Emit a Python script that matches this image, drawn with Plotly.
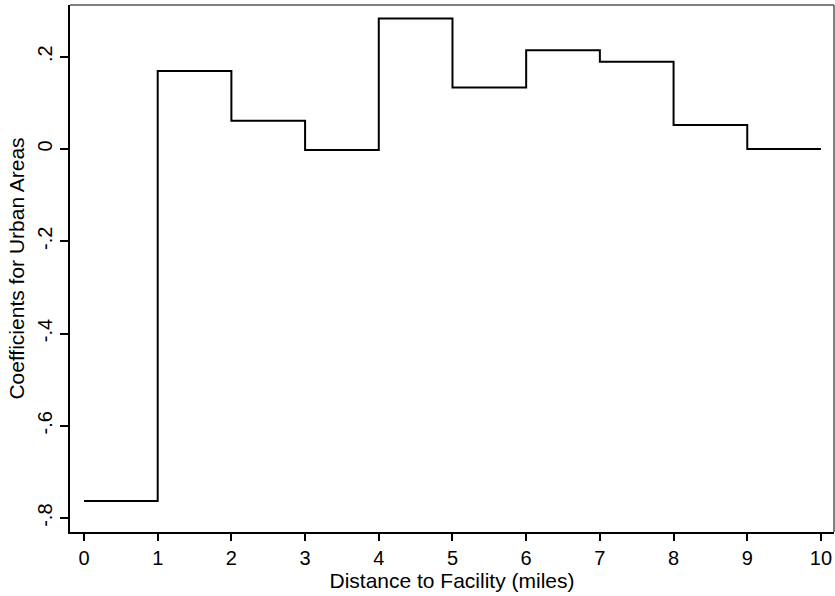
import plotly.graph_objects as go

# Distance bins (miles) and coefficients for urban areas
distance = [0, 1, 2, 3, 4, 5, 6, 7, 8, 9, 10]
coefs = [-0.763, 0.169, 0.061, -0.002, 0.283, 0.133, 0.214, 0.189, 0.052, 0.0]
x_ticks = [0, 1, 2, 3, 4, 5, 6, 7, 8, 9, 10]
y_ticks = [0.2, 0.0, -0.2, -0.4, -0.6, -0.8]
y_ticktext = [".2", "0", "-.2", "-.4", "-.6", "-.8"]

step_y = coefs + [coefs[-1]]

fig = go.Figure()
fig.add_trace(go.Scatter(
    x=distance, y=step_y, mode="lines", line_shape="hv",
    line=dict(color="black", width=2), showlegend=False, hoverinfo="skip"))

font = "Liberation Sans, Arial, sans-serif"
fig.update_layout(
    width=835, height=596,
    margin=dict(l=70, r=1, t=5, b=64, autoexpand=False),
    paper_bgcolor="white", plot_bgcolor="white",
    font=dict(family=font, color="black", size=20),
    xaxis=dict(
        range=[-0.19, 10.177], tickvals=x_ticks, ticktext=[str(v) for v in x_ticks],
        showgrid=False, zeroline=False, showline=True, linecolor="black", linewidth=2,
        ticks="outside", ticklen=7, tickwidth=1.5, tickcolor="black",
        tickfont=dict(size=20), automargin=False,
        title=dict(text="Distance to Facility (miles)", font=dict(size=21), standoff=0),
    ),
    yaxis=dict(
        range=[-0.830, 0.312], tickvals=y_ticks, ticktext=y_ticktext,
        showgrid=False, zeroline=False, showline=True, linecolor="black", linewidth=2,
        ticks="outside", ticklen=8, tickwidth=1.5, tickcolor="black",
        tickangle=-90, tickfont=dict(size=20), automargin=False,
        title=dict(text="Coefficients for Urban Areas", font=dict(size=21), standoff=4),
    ),
    shapes=[
        dict(type="line", xref="paper", yref="paper", x0=0, x1=1, y0=1, y1=1,
             line=dict(color="#555555", width=1.5)),
        dict(type="line", xref="paper", yref="paper", x0=1, x1=1, y0=0, y1=1,
             line=dict(color="#555555", width=1.5)),
    ],
)

fig.write_html("out.html", config={"displayModeBar": False},
               post_script="document.body.style.margin='0';document.body.style.overflow='hidden';")
